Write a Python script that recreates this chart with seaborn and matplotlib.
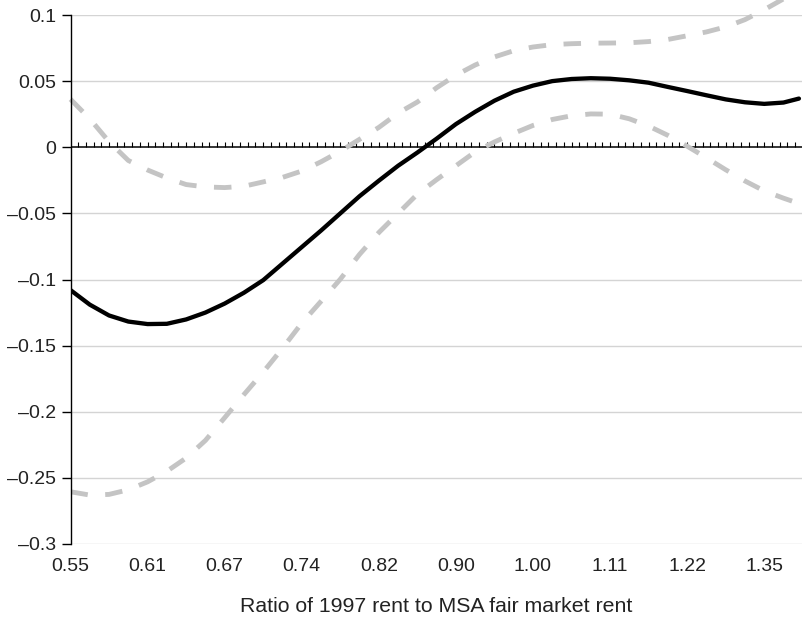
import numpy as np
import matplotlib
matplotlib.use("Agg")
import matplotlib.pyplot as plt
import seaborn as sns

# x is the log of the rent ratio; ticks are labelled with the ratio itself
log_ratio = [-0.600, -0.575, -0.550, -0.525, -0.500, -0.475, -0.450, -0.425,
             -0.400, -0.375, -0.350, -0.325, -0.300, -0.275, -0.250, -0.225,
             -0.200, -0.175, -0.150, -0.125, -0.100, -0.075, -0.050, -0.025,
             0.000, 0.025, 0.050, 0.075, 0.100, 0.125, 0.150, 0.175,
             0.200, 0.225, 0.250, 0.275, 0.300, 0.325, 0.345]

estimate = [-0.1080, -0.1190, -0.1272, -0.1318, -0.1337, -0.1335, -0.1302, -0.1250,
            -0.1182, -0.1100, -0.1005, -0.0880, -0.0755, -0.0630, -0.0500, -0.0370,
            -0.0253, -0.0140, -0.0040, 0.0065, 0.0175, 0.0268, 0.0352, 0.0420,
            0.0466, 0.0500, 0.0516, 0.0522, 0.0518, 0.0506, 0.0488, 0.0456,
            0.0425, 0.0393, 0.0362, 0.0340, 0.0328, 0.0338, 0.0368]

upper_ci = [0.0363, 0.0215, 0.0042, -0.0100, -0.0172, -0.0232, -0.0282, -0.0300,
            -0.0305, -0.0295, -0.0262, -0.0228, -0.0180, -0.0110, -0.0030, 0.0060,
            0.0150, 0.0258, 0.0342, 0.0450, 0.0545, 0.0622, 0.0683, 0.0730,
            0.0758, 0.0776, 0.0783, 0.0787, 0.0788, 0.0790, 0.0799, 0.0815,
            0.0843, 0.0872, 0.0910, 0.0965, 0.1040, 0.1122, 0.1200]

lower_ci = [-0.2605, -0.2630, -0.2625, -0.2590, -0.2530, -0.2450, -0.2350, -0.2217,
            -0.2045, -0.1870, -0.1700, -0.1520, -0.1330, -0.1165, -0.0998, -0.0810,
            -0.0645, -0.0500, -0.0355, -0.0245, -0.0140, -0.0035, 0.0040, 0.0105,
            0.0165, 0.0210, 0.0238, 0.0252, 0.0250, 0.0215, 0.0160, 0.0090,
            0.0008, -0.0080, -0.0170, -0.0255, -0.0330, -0.0385, -0.0425]

xtick_pos = [-0.6, -0.5, -0.4, -0.3, -0.2, -0.1, 0.0, 0.1, 0.2, 0.3]
xtick_labels = ["0.55", "0.61", "0.67", "0.74", "0.82", "0.90", "1.00", "1.11", "1.22", "1.35"]
ytick_pos = [0.1, 0.05, 0, -0.05, -0.1, -0.15, -0.2, -0.25, -0.3]
ytick_labels = ["0.1", "0.05", "0", "\u20130.05", "\u20130.1", "\u20130.15",
                "\u20130.2", "\u20130.25", "\u20130.3"]

sns.set_style("white")
plt.rcParams["font.family"] = ["Liberation Sans", "DejaVu Sans"]

fig = plt.figure(figsize=(8.02, 6.19), dpi=100)
ax = fig.add_axes([70.5 / 802, 75 / 619, 731.5 / 802, 529 / 619])

for yv in ytick_pos:
    if yv != 0:
        ax.axhline(yv, color="#d4d4d4", lw=1.0, zorder=0)

# zero line with small upward ticks
ax.axhline(0, color="black", lw=1.1, zorder=1)
zero_ticks = np.arange(-0.59, 0.345, 0.01)
ax.plot(zero_ticks, np.zeros_like(zero_ticks), ls="none", marker=2,
        ms=3.8, mew=0.8, color="black", zorder=1)

dash = (0, (3.6, 3.6))
sns.lineplot(x=log_ratio, y=upper_ci, ax=ax, color="#c4c4c4", lw=3.5,
             linestyle=dash, dash_joinstyle="round", clip_on=False, zorder=2)
sns.lineplot(x=log_ratio, y=lower_ci, ax=ax, color="#c4c4c4", lw=3.5,
             linestyle=dash, dash_joinstyle="round", zorder=2)
sns.lineplot(x=log_ratio, y=estimate, ax=ax, color="black", lw=3.1,
             solid_joinstyle="round", solid_capstyle="round", zorder=3)

ax.set_xlim(-0.6, 0.349)
ax.set_ylim(-0.3, 0.1)
ax.set_xticks(xtick_pos)
ax.set_xticklabels(xtick_labels, fontsize=14, color="#222222")
ax.set_yticks(ytick_pos)
ax.set_yticklabels(ytick_labels, fontsize=14, color="#222222")
ax.tick_params(axis="x", length=0, pad=10)
ax.tick_params(axis="y", direction="out", length=6.5, width=1.0, color="black",
               pad=4, left=True)

for side in ["top", "right", "bottom"]:
    ax.spines[side].set_visible(False)
ax.spines["left"].set_color("black")
ax.spines["left"].set_linewidth(1.0)

ax.set_xlabel("Ratio of 1997 rent to MSA fair market rent", fontsize=15.3,
              color="#222222")
ax.xaxis.set_label_coords(0.5, -0.100)
ax.set_ylabel("")

fig.savefig("out.png", dpi=100)
